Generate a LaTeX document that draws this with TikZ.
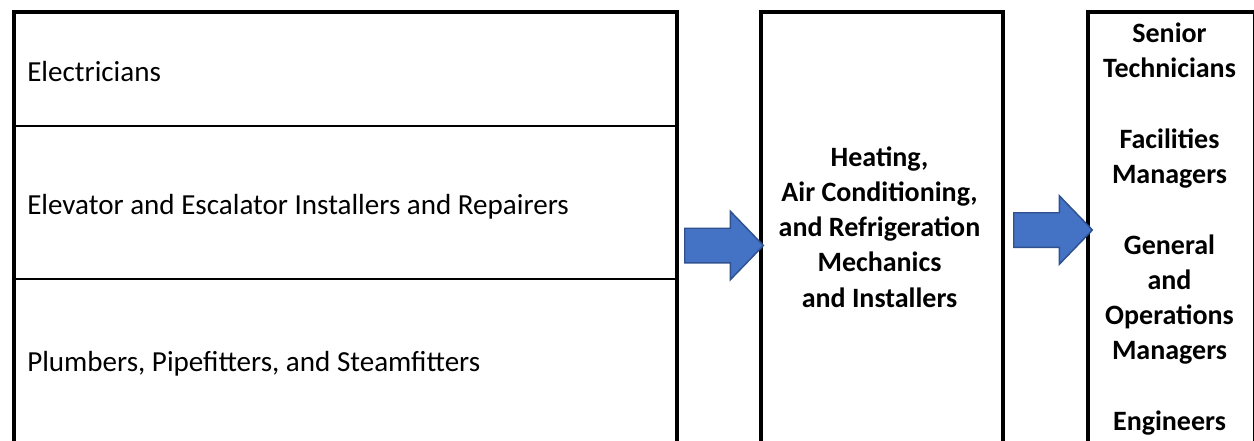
\documentclass[tikz,border=0pt]{standalone}
\usepackage{fontspec}
\setmainfont{Carlito}
\usetikzlibrary{shapes.arrows, positioning}
\definecolor{arrowblue}{RGB}{68, 114, 196}
\definecolor{arrowedge}{RGB}{47, 82, 143}

\begin{document}
\begin{tikzpicture}[
  x=0.75pt, y=-0.75pt,
  frame/.style={rectangle, draw=black, line width=3.2pt, inner sep=0pt, anchor=north west},
  divider/.style={draw=black, line width=1.7pt},
  trade/.style={anchor=base west, inner sep=0pt, font=\fontsize{21.8pt}{26.4pt}\selectfont},
  role/.style={align=center, inner sep=0pt, font=\bfseries\fontsize{21pt}{26.4pt}\selectfont},
  blockarrow/.style={single arrow, draw=arrowedge, fill=arrowblue, line width=1.1pt,
                     minimum height=59pt, inner xsep=0pt, inner ysep=12.4pt,
                     single arrow head extend=12.75pt, single arrow tip angle=92, anchor=tail}
]
  \useasboundingbox (0,0) rectangle (1254,440);
  \clip (0,0) rectangle (1254,440);
  \node[frame, minimum width=497.25pt, minimum height=352.5pt] (trades) at (11.5,10) {};
  \node[frame, minimum width=181.5pt, minimum height=352.5pt] (hvacbox) at (758.5,10) {};
  \node[frame, minimum width=125.6pt, minimum height=352.5pt] (nextbox) at (1086,10) {};
  \draw[divider] (11.5,126) -- (674.5,126);
  \draw[divider] (11.5,279) -- (674.5,279);
  \node[trade] (elec) at (27,81) {Electricians};
  \node[trade] (elev) at (27,214) {Elevator and Escalator Installers and Repairers};
  \node[trade] (plumb) at (27,371) {Plumbers, Pipefitters, and Steamfitters};
  \node[role] (hvac) at (879.5,227) {Heating,\\Air Conditioning,\\and Refrigeration\\Mechanics\\and Installers};
  \node[role] (next) at (1169.5,229) {Senior\\Technicians\\[26.6pt]Facilities\\Managers\\[26.6pt]General\\and\\Operations\\Managers\\[26.6pt]Engineers};
  \node[blockarrow] (toHvac) at (684,245.5) {};
  \node[blockarrow] (toNext) at (1013,230) {};
\end{tikzpicture}
\end{document}
